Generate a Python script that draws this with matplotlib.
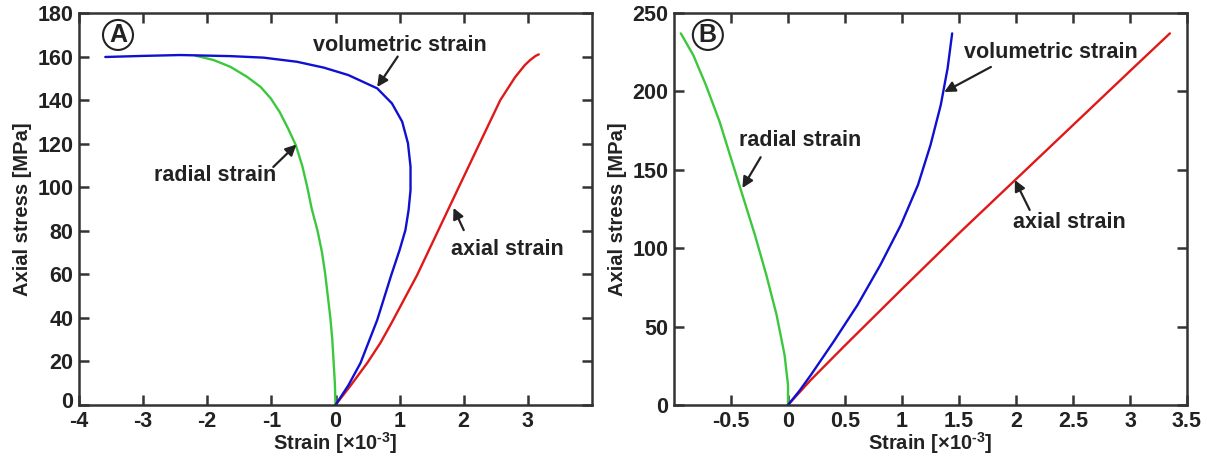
import matplotlib
matplotlib.use("Agg")
import matplotlib.pyplot as plt
import matplotlib.transforms as mtransforms

plt.rcParams['font.family'] = ['Liberation Sans', 'DejaVu Sans']
plt.rcParams['font.weight'] = 'bold'
plt.rcParams['axes.unicode_minus'] = False
plt.rcParams['mathtext.fontset'] = 'custom'
plt.rcParams['mathtext.bf'] = 'Liberation Sans:bold'
plt.rcParams['mathtext.rm'] = 'Liberation Sans:bold'

TXT = '#222222'

# ---------------- Panel A data (strain x1e-3, stress MPa) ----------------
a_radial_x = [0, -0.01, -0.03, -0.05, -0.08, -0.12, -0.16, -0.21, -0.28, -0.37, -0.44, -0.52,
              -0.62, -0.74, -0.87, -1.01, -1.17, -1.38, -1.64, -1.90, -2.18]
a_radial_y = [0, 10, 20, 30, 40, 50, 60, 70, 80, 90, 100, 110,
              119.4, 127, 134.5, 140.8, 146.1, 150.7, 155.3, 158.4, 160.4]

a_vol_x = [-3.59, -3.0, -2.42, -1.64, -1.12, -0.60, -0.18, 0.2, 0.65, 0.88, 1.04, 1.13,
           1.17, 1.17, 1.14, 1.09, 1.0, 0.87, 0.65, 0.39, 0.2, 0]
a_vol_y = [159.8, 160.3, 160.7, 160.2, 159.5, 157.6, 154.9, 151.5, 145.4, 138.5, 130.1, 120.2,
           109.4, 98.7, 89.5, 80.3, 71.2, 59.7, 39, 19.3, 9, 0]

a_axial_x = [0, 0.25, 0.5, 0.7, 0.88, 1.07, 1.27, 1.6, 1.93, 2.25, 2.57, 2.8, 2.95, 3.04,
             3.12, 3.17]
a_axial_y = [0, 9.5, 19.5, 28.5, 38, 48.5, 59.5, 80, 100.5, 120.3, 140, 150.5, 156, 158.5,
             160.3, 161]

# ---------------- Panel B data ----------------
b_radial_x = [0, 0, -0.03, -0.10, -0.19, -0.29, -0.40, -0.50, -0.60, -0.72, -0.83, -0.94]
b_radial_y = [0, 12.8, 31.9, 57.4, 82.9, 108.4, 134, 157.3, 180.7, 204, 223, 237]

b_vol_x = [0, 0.1, 0.2, 0.40, 0.61, 0.81, 0.99, 1.14, 1.25, 1.34, 1.40, 1.44]
b_vol_y = [0, 9, 19.1, 40.4, 63.8, 89.3, 114.8, 140.3, 165.8, 191.3, 214.7, 237]

b_axial_x = [0, 0.2, 0.5, 1.0, 1.5, 2.0, 2.5, 3.0, 3.35]
b_axial_y = [0, 16, 38, 74, 109.5, 144, 178.5, 213, 237]

a_xticks = [-4, -3, -2, -1, 0, 1, 2, 3]
a_yticks = [0, 20, 40, 60, 80, 100, 120, 140, 160, 180]
b_xticks = [-0.5, 0, 0.5, 1, 1.5, 2, 2.5, 3, 3.5]
b_xticklabels = ['-0.5', '0', '0.5', '1', '1.5', '2', '2.5', '3', '3.5']
b_yticks = [0, 50, 100, 150, 200, 250]

GREEN = '#3cc83c'
BLUE = '#1010d0'
RED = '#e01818'
FS = 15.5

fig = plt.figure(figsize=(12.07, 4.57), dpi=100)
axA = fig.add_axes([79/1207, 52/457, 513/1207, 392/457])
axB = fig.add_axes([674/1207, 52/457, 513/1207, 392/457])


def style(ax):
    for s in ax.spines.values():
        s.set_linewidth(1.8)
        s.set_color('#333333')
    ax.tick_params(direction='in', length=7, width=1.8, color='#333333',
                   top=True, right=True, labelsize=FS, labelcolor=TXT, pad=4)
    for lab in ax.get_xticklabels() + ax.get_yticklabels():
        lab.set_fontweight('bold')
    ax.set_ylabel('Axial stress [MPa]', fontsize=14.5, fontweight='bold', color=TXT,
                  labelpad=4)
    ax.set_xlabel(r'Strain [×10$^{\text{-3}}$]', fontsize=14.5, fontweight='bold',
                  color=TXT, labelpad=-1)


def arrow(ax, tip, tail):
    ax.annotate('', xy=tip, xytext=tail,
                arrowprops=dict(arrowstyle='-|>', color='#222222', lw=1.6,
                                mutation_scale=16, shrinkA=0, shrinkB=0))


def curve(ax, x, y, c):
    ax.plot(x, y, color=c, lw=1.7, solid_joinstyle='round', solid_capstyle='round')


# Panel A
curve(axA, a_radial_x, a_radial_y, GREEN)
curve(axA, a_axial_x, a_axial_y, RED)
curve(axA, a_vol_x, a_vol_y, BLUE)
axA.set_xlim(-4, 4)
axA.set_ylim(0, 180)
axA.set_xticks(a_xticks)
axA.set_yticks(a_yticks)
style(axA)
# lift the "0" y tick label slightly so it clears the "-4" x tick label
zero_lab = axA.get_yticklabels()[0]
zero_lab.set_transform(zero_lab.get_transform() +
                       mtransforms.ScaledTranslation(0, 5/100, fig.dpi_scale_trans))
axA.text(1.01, 165.3, 'volumetric strain', ha='center', va='center', fontsize=FS,
         fontweight='bold', color=TXT)
arrow(axA, (0.65, 146), (0.97, 160))
axA.text(-1.87, 105.6, 'radial strain', ha='center', va='center', fontsize=FS,
         fontweight='bold', color=TXT)
arrow(axA, (-0.61, 119.6), (-0.97, 109.3))
axA.text(2.68, 71.2, 'axial strain', ha='center', va='center', fontsize=FS,
         fontweight='bold', color=TXT)
arrow(axA, (1.84, 90.5), (2.0, 80.3))
axA.text(0.076, 0.944, 'A', transform=axA.transAxes, ha='center', va='center',
         fontsize=18, fontweight='bold', color=TXT,
         bbox=dict(boxstyle='circle,pad=0.12', fc='white', ec='#222222', lw=1.5))

# Panel B
curve(axB, b_radial_x, b_radial_y, GREEN)
curve(axB, b_axial_x, b_axial_y, RED)
curve(axB, b_vol_x, b_vol_y, BLUE)
axB.set_xlim(-1, 3.5)
axB.set_ylim(0, 250)
axB.set_xticks(b_xticks)
axB.set_xticklabels(b_xticklabels)
axB.set_yticks(b_yticks)
style(axB)
axB.text(0.105, 169, 'radial strain', ha='center', va='center', fontsize=FS,
         fontweight='bold', color=TXT)
arrow(axB, (-0.40, 138.4), (-0.24, 158))
axB.text(2.31, 224.5, 'volumetric strain', ha='center', va='center', fontsize=FS,
         fontweight='bold', color=TXT)
arrow(axB, (1.37, 199.6), (1.78, 215.6))
axB.text(2.47, 116.7, 'axial strain', ha='center', va='center', fontsize=FS,
         fontweight='bold', color=TXT)
arrow(axB, (1.99, 143.5), (2.12, 124.4))
axB.text(0.066, 0.944, 'B', transform=axB.transAxes, ha='center', va='center',
         fontsize=18, fontweight='bold', color=TXT,
         bbox=dict(boxstyle='circle,pad=0.12', fc='white', ec='#222222', lw=1.5))

fig.savefig('out.png', dpi=100)
